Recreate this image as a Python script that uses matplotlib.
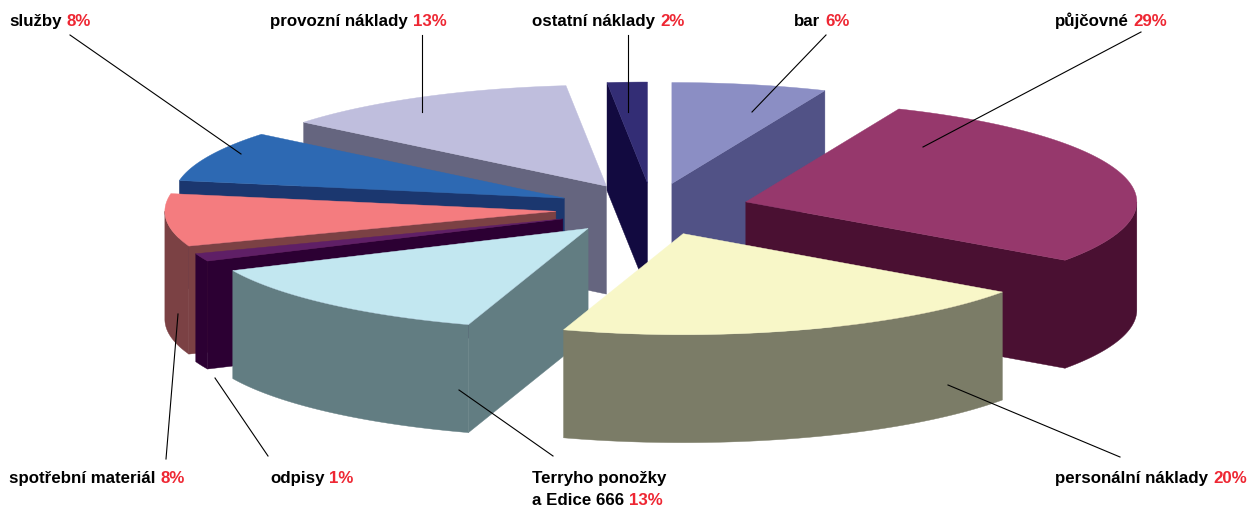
import numpy as np
import matplotlib
matplotlib.use("Agg")
import matplotlib.pyplot as plt

# --- data (clockwise from 12 o'clock) ---
categories = ["bar", "půjčovné", "personální náklady", "Terryho ponožky\na Edice 666", "odpisy",
              "spotřební materiál", "služby", "provozní náklady", "ostatní náklady"]
printed_percent = [6, 29, 20, 13, 1, 8, 8, 13, 2]
# slice sizes as drawn in the picture
shares = [6.4, 28.4, 20.15, 13.2, 1.25, 8.4, 8.1, 12.45, 1.65]
top_colors = ["#8b8ec4", "#96386c", "#f8f7c8", "#c2e7f0", "#5f1f66",
              "#f47c7f", "#2d69b3", "#bfbedd", "#332d75"]
side_colors = ["#515286", "#4a1032", "#7b7c67", "#627d82", "#2c0033",
               "#7b4144", "#1b376f", "#65657f", "#120a40"]
draw_order = [8, 0, 7, 6, 5, 4, 1, 3, 2]

# --- layout / style ---
CX, CY = 652.5, 210
RX, RY = 391, 101
EX, EY = 97, 26
DEPTH = 108
RED = "#ee2733"
FONT = "Liberation Sans"
FS = 12.2

label_pos = {0: (794, 26), 1: (1055, 26), 2: (1055, 483), 3: (532, 483), 4: (270, 483),
             5: (9, 483), 6: (9, 26), 7: (270, 26), 8: (532, 26)}
leaders = {0: ((826, 36), (752, 113)), 1: ((1141, 33), (923, 148)), 2: ((1120, 458), (948, 386)),
           3: ((553, 457), (459, 391)), 4: ((268, 457), (215, 379)), 5: ((166, 460), (178, 315)),
           6: ((70, 36), (241, 155)), 7: ((422, 36), (422, 113)), 8: ((628, 36), (628, 113))}

fig = plt.figure(figsize=(12.49, 5.06), dpi=100)
ax = fig.add_axes([0, 0, 1, 1])
ax.set_xlim(0, 1249)
ax.set_ylim(506, 0)
ax.axis("off")

edges = np.cumsum([0] + shares) / sum(shares) * 2 * np.pi


def rim(a, ox, oy):
    return ox + RX * np.sin(a), oy - RY * np.cos(a)


z = 1
for i in draw_order:
    a0, a1 = edges[i], edges[i + 1]
    mid = (a0 + a1) / 2
    ox, oy = CX + EX * np.sin(mid), CY - EY * np.cos(mid)
    side, top = side_colors[i], top_colors[i]
    # radial walls facing the viewer
    for a, vis in ((a0, np.sin(a0) < 0), (a1, np.sin(a1) > 0)):
        if vis:
            x, y = rim(a, ox, oy)
            ax.fill([ox, x, x, ox], [oy, y, y + DEPTH, oy + DEPTH], color=side, lw=0.3, zorder=z)
    # outer rim (front half only)
    lo, hi = max(a0, np.pi / 2), min(a1, 3 * np.pi / 2)
    if hi > lo:
        t = np.linspace(lo, hi, 80)
        x, y = rim(t, ox, oy)
        ax.fill(np.r_[x, x[::-1]], np.r_[y, y[::-1] + DEPTH], color=side, lw=0.3, zorder=z)
    # top face
    t = np.linspace(a0, a1, 120)
    x, y = rim(t, ox, oy)
    ax.fill(np.r_[ox, x], np.r_[oy, y], color=top, lw=0.3, zorder=z + 0.5)
    z += 1

for i, (p, q) in leaders.items():
    ax.plot([p[0], q[0]], [p[1], q[1]], color="black", lw=0.8, zorder=50)

fig.canvas.draw()
rend = fig.canvas.get_renderer()
for i, name in enumerate(categories):
    x, y = label_pos[i]
    for k, line in enumerate(name.split("\n")):
        yy = y + 22 * k
        t = ax.text(x, yy, line, family=FONT, weight="bold", size=FS, color="black", va="baseline", zorder=60)
    ext = t.get_window_extent(rend)
    xr = ax.transData.inverted().transform((ext.x1, ext.y0))[0] + 5
    ax.text(xr, yy, f"{printed_percent[i]}%", family=FONT, weight="bold", size=FS, color=RED,
            va="baseline", zorder=60)

fig.savefig("out.png", dpi=100)
